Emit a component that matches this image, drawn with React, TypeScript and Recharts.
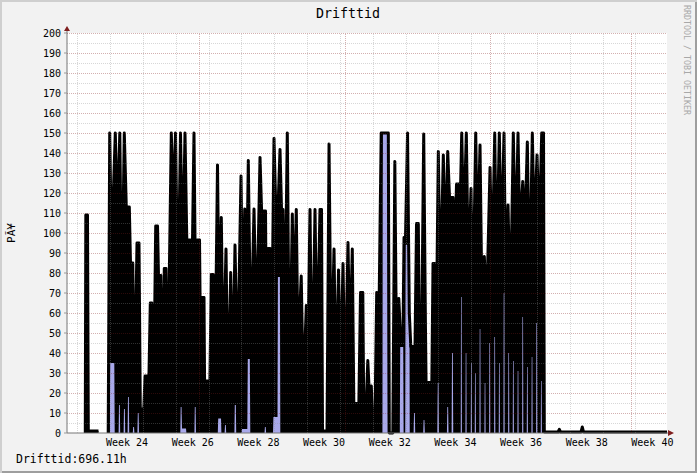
import React from 'react';
import {
  ComposedChart, Area, Line, XAxis, YAxis, CartesianGrid,
  ReferenceLine, ReferenceDot
} from 'recharts';

type Punkt = [number, number | null];

// Drifttid (black line) - x is ISO week with decimals, y is the value
const driftStart: Punkt[] = [
  [23.227, 0], [23.243, 109], [23.294, 109], [23.319, 1], [23.629, 1], [23.767, null],
];

const driftUke24: Punkt[] = [
  [23.925, 0], [23.971, 150], [24.025, 91], [24.141, 150], [24.208, 106], [24.278, 150],
  [24.339, 61], [24.415, 150], [24.476, 113], [24.568, 113], [24.604, 85], [24.674, 85],
  [24.72, 13], [24.802, 95], [24.863, 95], [24.903, 12], [25.009, 12], [25.046, 28.5],
  [25.107, 28.5], [25.143, 8], [25.207, 65], [25.253, 65], [25.305, 10], [25.372, 103.5],
  [25.427, 103.5], [25.457, 78.7], [25.527, 78.7], [25.57, 20], [25.634, 82.3], [25.686, 82.3],
  [25.731, 15], [25.847, 150], [25.908, 113], [25.975, 150],
];

const driftUke26: Punkt[] = [
  [26.051, 66], [26.127, 150], [26.194, 85], [26.264, 150], [26.319, 96.5], [26.426, 96.5],
  [26.462, 60], [26.538, 150], [26.599, 45], [26.639, 96.5], [26.706, 96.5], [26.739, 40],
  [26.77, 67.7], [26.843, 67.7], [26.867, 10], [26.892, 26], [26.959, 26], [27.004, 3],
  [27.065, 79.3], [27.123, 79.3], [27.172, 20], [27.254, 134], [27.309, 50], [27.37, 107.8],
  [27.428, 30], [27.513, 92], [27.574, 15], [27.656, 80.3], [27.711, 25], [27.787, 94],
  [27.863, 30], [27.97, 128.5], [28.022, 60], [28.083, 112], [28.131, 60], [28.192, 136.2],
  [28.269, 40], [28.366, 112], [28.442, 50], [28.549, 137.8], [28.597, 111], [28.716, 111],
  [28.747, 40], [28.792, 92.3], [28.853, 92.3], [28.893, 30], [28.975, 147.3], [29.03, 111.8],
  [29.097, 111.8], [29.158, 141.8], [29.204, 111.8], [29.249, 111.8], [29.295, 40], [29.38, 150],
  [29.447, 20], [29.533, 109.5], [29.578, 60], [29.654, 111.8], [29.706, 40], [29.804, 78.5],
  [29.868, 20], [29.959, 63.8], [29.996, 30],
];

const driftUke30: Punkt[] = [
  [30.072, 111.8], [30.133, 20], [30.224, 111.8], [30.285, 40], [30.376, 111.8], [30.422, 111.8],
  [30.453, 1], [30.59, 1], [30.651, 144.5], [30.717, 30], [30.803, 92], [30.864, 20],
  [30.94, 81.5], [31.001, 30], [31.077, 84.8], [31.138, 20], [31.229, 95.3], [31.284, 40],
  [31.36, 92], [31.406, 14.8], [31.519, 14.8], [31.549, 3], [31.61, 70.3], [31.68, 70.3],
  [31.711, 5], [31.762, 5], [31.832, 36.2], [31.878, 20], [31.939, 23.5], [31.985, 2],
  [32.046, 2], [32.103, 70.3], [32.164, 48], [32.24, 150], [32.457, 150], [32.487, 0],
  [32.594, 0], [32.655, 135.7], [32.716, 20], [32.776, 67.3], [32.822, 50.3], [32.905, 50.3],
  [32.935, 97.8], [32.981, 97.8], [33.042, 150], [33.096, 60], [33.142, 43.2], [33.27, 43.2],
  [33.316, 104.8], [33.371, 104.8], [33.407, 32], [33.462, 32], [33.535, 149.5], [33.59, 50],
  [33.62, 5], [33.672, 25.3], [33.742, 25.3], [33.773, 10], [33.818, 84.8], [33.864, 84.8],
  [33.898, 20], [33.98, 140.7],
];

const driftUke34: Punkt[] = [
  [34.038, 70], [34.132, 139], [34.193, 90], [34.266, 140.7], [34.321, 117.8], [34.428, 117.8],
  [34.464, 80], [34.534, 124.5], [34.601, 124.5], [34.626, 100], [34.693, 150], [34.753, 100],
  [34.833, 150], [34.894, 80], [34.976, 122.3], [35.031, 60], [35.119, 150], [35.174, 90],
  [35.25, 144], [35.305, 70], [35.381, 88.2], [35.448, 60], [35.555, 132.8], [35.616, 80],
  [35.698, 150], [35.753, 80], [35.838, 150], [35.899, 90], [35.981, 150], [36.027, 80],
  [36.103, 114], [36.173, 60], [36.264, 150], [36.331, 90], [36.407, 150], [36.462, 100],
  [36.551, 125.7], [36.615, 100], [36.691, 145.5], [36.758, 70], [36.843, 150], [36.904, 100],
  [36.986, 139], [37.056, 100], [37.129, 150], [37.184, 150], [37.208, 0.5], [37.626, 0.5],
  [37.665, 1.8], [37.702, 0.5], [38.326, 0.5], [38.366, 3], [38.403, 0.5], [40.946, 0.5],
];

// lavender area
const lillaUke24: Punkt[] = [
  [23.974, 0], [23.986, 35], [24.111, 35], [24.123, 0],
  [24.242, 0], [24.254, 14], [24.278, 14], [24.29, 0],
  [24.394, 0], [24.406, 12], [24.431, 12], [24.443, 0],
  [24.516, 0], [24.528, 18], [24.552, 18], [24.565, 0],
  [24.674, 0], [24.686, 3], [24.711, 3], [24.723, 0],
  [24.814, 0], [24.827, 10], [24.851, 10], [24.863, 0],
  [26.121, 0], [26.133, 13], [26.158, 13], [26.173, 2.3], [26.295, 2.3], [26.307, 0],
  [26.551, 0], [26.563, 13], [26.587, 13], [26.599, 0],
  [27.263, 0], [27.276, 7.3], [27.361, 7.3], [27.373, 0],
  [27.47, 0], [27.483, 4], [27.507, 4], [27.519, 0],
  [27.769, 0], [27.781, 14], [27.812, 14], [27.824, 0],
  [27.988, 0], [28.001, 2], [28.162, 2], [28.177, 37], [28.238, 37], [28.253, 0],
  [28.686, 0], [28.698, 3], [28.722, 3], [28.735, 0],
  [28.945, 0], [28.957, 8], [29.082, 8], [29.094, 78], [29.155, 78], [29.167, 0],
];

const lillaUke32: Punkt[] = [
  [32.277, 0], [32.289, 150], [32.426, 150], [32.439, 0],
  [32.807, 0], [32.819, 43], [32.911, 43], [32.923, 0],
  [32.972, 0], [32.984, 94], [33.096, 94], [33.109, 0],
  [33.227, 0], [33.24, 10], [33.264, 10], [33.276, 0],
  [33.52, 0], [33.532, 6.5], [33.556, 6.5], [33.569, 0],
  [33.949, 0], [33.962, 25], [33.986, 25], [33.998, 0],
  [34.242, 0], [34.254, 13], [34.278, 13], [34.291, 0],
  [34.385, 0], [34.397, 40], [34.421, 40], [34.434, 0],
];

const lillaUke35: Punkt[] = [
  [34.662, 0], [34.671, 68], [34.689, 68], [34.698, 0],
  [34.806, 0], [34.815, 40], [34.833, 40], [34.842, 0],
  [34.967, 0], [34.976, 35], [34.994, 35], [35.003, 0],
  [35.089, 0], [35.098, 30], [35.116, 30], [35.125, 0],
  [35.232, 0], [35.241, 52], [35.259, 52], [35.268, 0],
  [35.384, 0], [35.393, 25], [35.411, 25], [35.42, 0],
  [35.527, 0], [35.536, 45], [35.554, 45], [35.563, 0],
  [35.68, 0], [35.689, 48], [35.707, 48], [35.716, 0],
  [35.82, 0], [35.829, 35], [35.847, 35], [35.856, 0],
  [35.963, 0], [35.972, 70], [35.99, 70], [35.999, 0],
  [36.106, 0], [36.115, 40], [36.133, 40], [36.142, 0],
  [36.246, 0], [36.255, 36], [36.273, 36], [36.282, 0],
  [36.389, 0], [36.398, 31], [36.416, 31], [36.425, 0],
  [36.533, 0], [36.542, 58], [36.56, 58], [36.569, 0],
  [36.673, 0], [36.682, 33], [36.7, 33], [36.709, 0],
  [36.816, 0], [36.825, 38], [36.843, 38], [36.852, 0],
  [36.959, 0], [36.968, 55], [36.986, 55], [36.995, 0],
  [37.099, 0], [37.108, 26], [37.126, 26], [37.135, 0],
];

const ukeEtiketter = [24, 26, 28, 30, 32, 34, 36, 38, 40];
const yVerdier = [0, 10, 20, 30, 40, 50, 60, 70, 80, 90, 100, 110, 120, 130, 140, 150, 160, 170, 180, 190, 200];
const mindreY = [5, 15, 25, 35, 45, 55, 65, 75, 85, 95, 105, 115, 125, 135, 145, 155, 165, 175, 185, 195];
const ukeLinjer = [23, 24, 25, 26, 27, 28, 29, 30, 31, 32, 33, 34, 35, 36, 37, 38, 39, 40];
// 1 jul, 1 aug, 1 sep, 1 okt
const maanedsLinjer = [26.714, 31.143, 35.571, 39.857];
const xDomene: [number, number] = [22.67, 40.945];

const tilData = (p: Punkt[]) => p.map(([uke, verdi]) => ({ uke, verdi }));
const driftData = tilData([...driftStart, ...driftUke24, ...driftUke26, ...driftUke30, ...driftUke34]);
const lillaData = tilData([...lillaUke24, ...lillaUke32, ...lillaUke35]);

const mono = '"DejaVu Sans Mono", monospace';

const PilOpp = (props: any) => {
  const { cx, cy } = props;
  return (
    <g>
      <line x1={cx} y1={cy} x2={cx} y2={cy - 2} stroke="#777" />
      <path d={`M${cx - 3},${cy - 2} L${cx + 3},${cy - 2} L${cx},${cy - 7} Z`} fill="#7f1f1f" />
    </g>
  );
};

const PilHoyre = (props: any) => {
  const { cx, cy } = props;
  return (
    <g>
      <line x1={cx} y1={cy} x2={cx + 1} y2={cy} stroke="#777" />
      <path d={`M${cx + 1},${cy - 3} L${cx + 1},${cy + 3} L${cx + 7},${cy} Z`} fill="#7f1f1f" />
    </g>
  );
};

export default function App() {
  return (
    <div
      style={{
        position: 'relative', width: 697, height: 473, background: '#f2f2f2',
        boxShadow: 'inset 2px 2px 0 #cfcfcf, inset -2px -2px 0 #9e9e9e',
      }}
    >
      <style>{'body{margin:0}'}</style>
      <ComposedChart width={697} height={473} margin={{ top: 33, right: 30, bottom: 0, left: 0 }}>
        <CartesianGrid fill="#ffffff" stroke="none" />
        <XAxis
          type="number"
          dataKey="uke"
          domain={xDomene}
          allowDataOverflow
          ticks={ukeEtiketter.map(u => u + 0.5)}
          tickFormatter={(v: number) => `Week ${Math.floor(v)}`}
          interval={0}
          height={40}
          tickLine={false}
          tickSize={4}
          tickMargin={2}
          axisLine={{ stroke: '#777' }}
          tick={{ fill: '#000', fontSize: 10, fontFamily: mono }}
        />
        <YAxis
          type="number"
          domain={[0, 200]}
          ticks={yVerdier}
          interval={0}
          width={67}
          tickSize={3}
          tickMargin={3}
          tickLine={{ stroke: '#999' }}
          axisLine={{ stroke: '#777' }}
          tick={{ fill: '#000', fontSize: 10, fontFamily: mono }}
        />
        <Area
          data={driftData}
          dataKey="verdi"
          type="linear"
          stroke="none"
          fill="#000000"
          fillOpacity={1}
          connectNulls={false}
          dot={false}
          activeDot={false}
          isAnimationActive={false}
        />
        <Area
          data={lillaData}
          dataKey="verdi"
          type="linear"
          stroke="none"
          fill="#a8a8ea"
          fillOpacity={1}
          dot={false}
          activeDot={false}
          isAnimationActive={false}
        />
        <Line
          data={driftData}
          dataKey="verdi"
          type="linear"
          stroke="#000000"
          strokeWidth={3}
          strokeLinejoin="round"
          connectNulls={false}
          dot={false}
          activeDot={false}
          isAnimationActive={false}
        />
        {mindreY.map(v => (
          <ReferenceLine key={'my' + v} y={v} stroke="#8c8c8c" strokeOpacity={0.35}
            strokeDasharray="1 1" shapeRendering="crispEdges" zIndex={600} />
        ))}
        {ukeLinjer.map(u => (
          <ReferenceLine key={'uk' + u} x={u} stroke="#8c8c8c" strokeOpacity={0.35}
            strokeDasharray="1 1" shapeRendering="crispEdges" zIndex={600} />
        ))}
        {yVerdier.filter(v => v > 0).map(v => (
          <ReferenceLine key={'sy' + v} y={v} stroke="#821e1e" strokeOpacity={0.35}
            strokeDasharray="1 1" shapeRendering="crispEdges" zIndex={600} />
        ))}
        {maanedsLinjer.map(u => (
          <ReferenceLine key={'mn' + u} x={u} stroke="#821e1e" strokeOpacity={0.35}
            strokeDasharray="1 1" shapeRendering="crispEdges" zIndex={600} />
        ))}
        <ReferenceDot x={xDomene[0]} y={200} ifOverflow="visible" shape={PilOpp} zIndex={700} />
        <ReferenceDot x={xDomene[1]} y={0} ifOverflow="visible" shape={PilHoyre} zIndex={700} />
      </ComposedChart>
      <svg
        width={697}
        height={473}
        style={{ position: 'absolute', left: 0, top: 0, pointerEvents: 'none' }}
        fontFamily={mono}
      >
        <text x={348} y={18.3} textAnchor="middle" fontSize={13.3} fill="#000">Drifttid</text>
        <text x={16} y={463.3} fontSize={11.5} fill="#000">Drifttid:696.11h</text>
        <text x={15} y={233} textAnchor="middle" fontSize={11} fill="#000"
          transform="rotate(-90 15 233)">PÃ¥</text>
        <text x={684} y={5} fontSize={8.3} fill="#a8a8a8"
          transform="rotate(90 684 5)">RRDTOOL / TOBI OETIKER</text>
      </svg>
    </div>
  );
}
